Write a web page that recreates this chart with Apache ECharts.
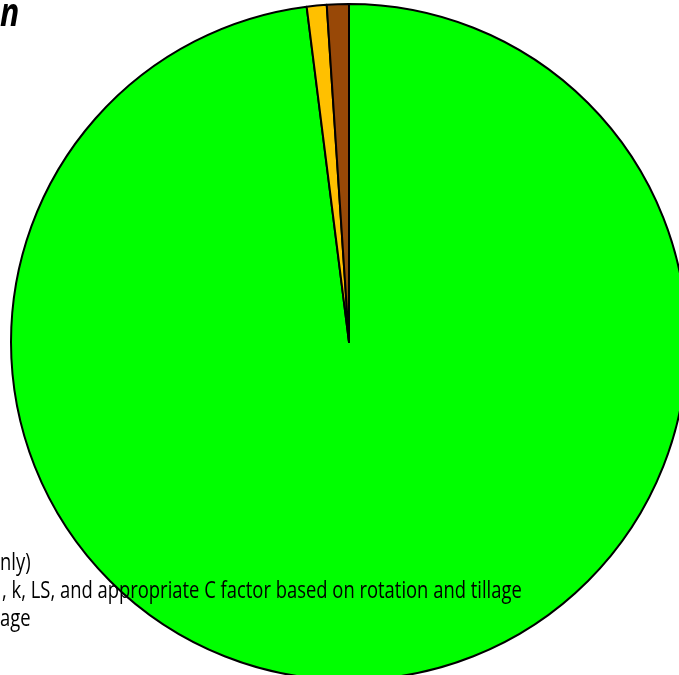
<!DOCTYPE html>
<html>
<head>
<meta charset="utf-8">
<script src="https://cdn.jsdelivr.net/npm/echarts@6/dist/echarts.min.js"></script>
<style>
  html, body { margin: 0; padding: 0; background: #fff; }
  #main { width: 679px; height: 675px; }
</style>
</head>
<body>
<div id="main"></div>
<script>
  // slices, clockwise from 12 o'clock
  const names = ['Green', 'Yellow', 'Brown'];
  const values = [98.0, 0.95, 1.05];
  const colors = ['#00ff00', '#ffc000', '#984807'];
  // visible fragments of the text lines (cut at the left edge)
  const titleText = 'n';
  const noteLines = ['nly)', ', k, LS, and appropriate C factor based on rotation and tillage', 'age'];

  const chart = echarts.init(document.getElementById('main'));

  const textStyle = {
    fontFamily: 'Open Sans',
    fontSize: 23,
    fill: '#000'
  };

  const option = {
    animation: false,
    series: [
      {
        type: 'pie',
        center: [349, 342],
        radius: 338,
        startAngle: 90,
        clockwise: true,
        label: { show: false },
        labelLine: { show: false },
        emphasis: { disabled: true },
        itemStyle: {
          borderColor: '#000',
          borderWidth: 2
        },
        data: names.map(function(n, i) {
          return { name: n, value: values[i], itemStyle: { color: colors[i] } };
        })
      }
    ],
    graphic: [
      {
        type: 'text',
        x: 0,
        y: -5,
        z: 100,
        scaleX: 0.8,
        style: {
          text: titleText,
          fontFamily: 'Open Sans',
          fontWeight: 'bold',
          fontStyle: 'italic',
          fontSize: 40,
          fill: '#000'
        }
      }
    ].concat(noteLines.map(function(t, i) {
      return {
        type: 'text',
        x: i === 1 ? 2 : 0,
        y: 552 + i * 28,
        z: 100,
        scaleX: 0.8,
        style: Object.assign({ text: t }, textStyle)
      };
    }))
  };
  chart.setOption(option);

  window.onresize = function() {
    chart.resize();
  };
</script>
</body>
</html>
